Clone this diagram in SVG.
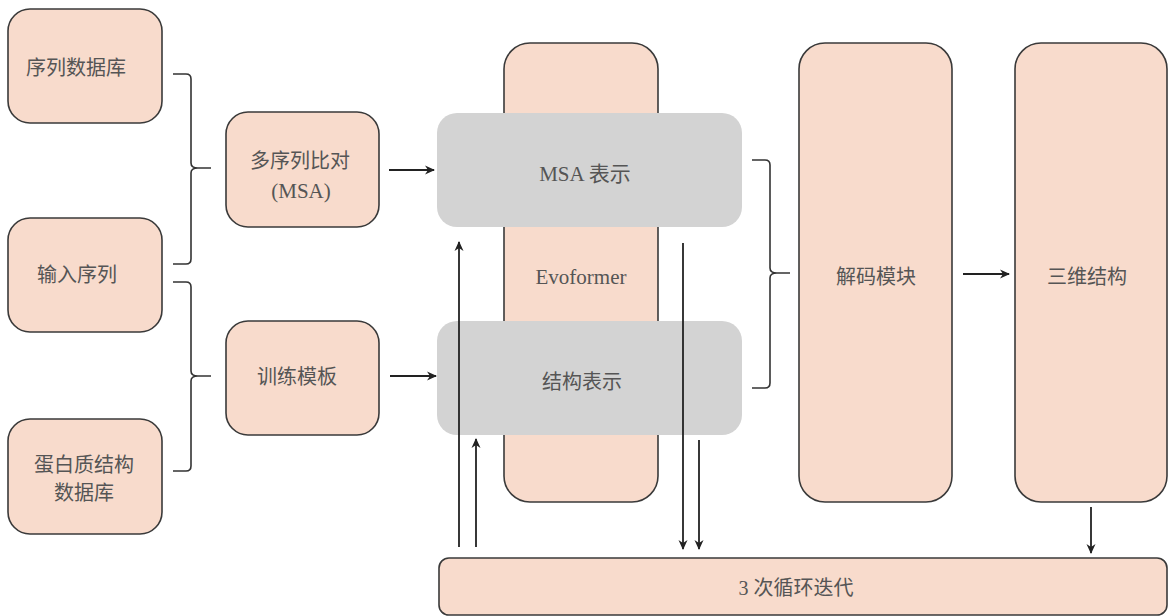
<svg xmlns="http://www.w3.org/2000/svg" width="1168" height="616" viewBox="0 0 1168 616">
<style>
.box{fill:#f8dbcc;stroke:#3a3a3a;stroke-width:1.6}
.gray{fill:#d3d3d3;stroke:none}
.t{font-family:"Liberation Serif","Noto Sans CJK SC",serif;font-size:20px;fill:#555;text-anchor:middle;dominant-baseline:central}
.l{font-size:21px}
.c{fill:none;stroke:#222;stroke-width:1.8}
.br{fill:none;stroke:#333;stroke-width:1.6}
</style>
<defs>
<marker id="ah" viewBox="0 0 10 10" refX="9" refY="5" markerWidth="10" markerHeight="10" markerUnits="userSpaceOnUse" orient="auto">
<path d="M0,0.5 L10,5 L0,9.5 L3,5 Z" fill="#222"/>
</marker>
</defs>
<rect width="1168" height="616" fill="#fff"/>
<g id="n-seqdb"><rect class="box" x="8" y="9" width="154" height="114" rx="22"/><text class="t" x="76" y="68">序列数据库</text></g>
<g id="n-input"><rect class="box" x="8" y="218" width="154" height="114" rx="22"/><text class="t" x="77" y="275">输入序列</text></g>
<g id="n-pdb"><rect class="box" x="8" y="419" width="154" height="115" rx="22"/><text class="t" x="84" y="465">蛋白质结构</text><text class="t" x="84" y="493">数据库</text></g>
<g id="n-msa"><rect class="box" x="226" y="112" width="153" height="115" rx="22"/><text class="t" x="300" y="161">多序列比对</text><text class="t l" x="301" y="191">(MSA)</text></g>
<g id="n-tmpl"><rect class="box" x="226" y="321" width="153" height="114" rx="22"/><text class="t" x="297" y="377">训练模板</text></g>
<g id="n-evo"><rect class="box" x="504" y="43" width="154" height="459" rx="26"/><text class="t l" x="581" y="277">Evoformer</text></g>
<g id="n-msarep"><rect class="gray" x="437" y="113" width="305" height="114" rx="20"/><text class="t l" x="585" y="174">MSA 表示</text></g>
<g id="n-strrep"><rect class="gray" x="437" y="321" width="305" height="114" rx="20"/><text class="t" x="582" y="382">结构表示</text></g>
<g id="n-dec"><rect class="box" x="799" y="43" width="153" height="459" rx="26"/><text class="t" x="876" y="277">解码模块</text></g>
<g id="n-3d"><rect class="box" x="1015" y="43" width="152" height="459" rx="26"/><text class="t" x="1087" y="277">三维结构</text></g>
<g id="n-loop"><rect class="box" x="439" y="558" width="728" height="57" rx="10"/><text class="t" x="796" y="588">3 次循环迭代</text></g>
<g id="connectors">
<path class="br" d="M173,74 L186,74 Q191,74 191,79 L191,163 Q191,168 198,168 L211,168 M198,168 Q191,168 191,173 L191,259 Q191,264 186,264 L173,264"/>
<path class="br" d="M173,282 L186,282 Q191,282 191,287 L191,371 Q191,376 198,376 L211,376 M198,376 Q191,376 191,381 L191,466 Q191,471 186,471 L173,471"/>
<path class="br" d="M752,160 L765,160 Q770,160 770,165 L770,268 Q770,273 777,273 L790,273 M777,273 Q770,273 770,278 L770,383 Q770,388 765,388 L752,388"/>
<line class="c" x1="389" y1="170" x2="434" y2="170" marker-end="url(#ah)"/>
<line class="c" x1="390" y1="376" x2="436" y2="376" marker-end="url(#ah)"/>
<line class="c" x1="459" y1="547" x2="459" y2="242" marker-end="url(#ah)"/>
<line class="c" x1="476" y1="547" x2="476" y2="439" marker-end="url(#ah)"/>
<line class="c" x1="683" y1="243" x2="683" y2="549" marker-end="url(#ah)"/>
<line class="c" x1="699" y1="440" x2="699" y2="549" marker-end="url(#ah)"/>
<line class="c" x1="963" y1="274" x2="1009" y2="274" marker-end="url(#ah)"/>
<line class="c" x1="1091" y1="507" x2="1091" y2="553" marker-end="url(#ah)"/>
</g>
</svg>
